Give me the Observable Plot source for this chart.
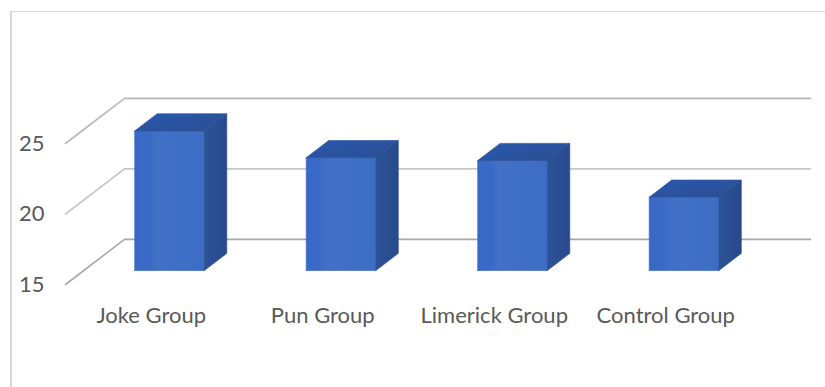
<!DOCTYPE html>
<html>
<head>
<meta charset="utf-8">
<script src="https://cdn.jsdelivr.net/npm/d3@7"></script>
<script src="https://cdn.jsdelivr.net/npm/@observablehq/plot@0.6"></script>
<style>
  html, body { margin: 0; padding: 0; background: #fff; }
  #chart { position: relative; width: 825px; height: 387px; overflow: hidden; }
  #frame { position: absolute; left: 10px; top: 11px; right: 0; bottom: 0;
           border-left: 2px solid #d9d9d9; border-top: 1px solid #d9d9d9; }
  #chart svg { position: absolute; left: 0; top: 0; }
</style>
</head>
<body>
<div id="chart"><div id="frame"></div></div>
<script>
// Mean scores per group
const categories = ["Joke Group", "Pun Group", "Limerick Group", "Control Group"];
const scores = [24.9, 23, 22.8, 20.2];

// Value axis
const gridLevels = [15, 20, 25];
const gridShades = ["#a8a8a8", "#c6c6c6", "#b8b8b8"];
const baseline = 15;

// Oblique projection: moving one unit into the depth shifts a point
// right along the category axis and up along the value axis.
const depthX = 0.344;
const depthY = 3.2;
const barHalfWidth = 0.203;
const barDepthStart = 0.31;
const barDepthEnd = 0.69;
const project = (i, v, d) => ({ x: i + d * depthX, y: v + d * depthY });

// Floor edge and back wall for each grid level
const gridLines = gridLevels.flatMap((level, k) => [
  { ...project(-0.5, level, 0), k },
  { ...project(-0.5, level, 1), k },
  { ...project(3.5, level, 1), k }
]);

// The three visible faces of each column
const face = (name, corners) =>
  corners.map(([i, v, d]) => ({ ...project(i, v, d), name }));

const frontFaces = [], sideFaces = [], topFaces = [];
scores.forEach((score, c) => {
  const l = c - barHalfWidth, r = c + barHalfWidth;
  const a = barDepthStart, b = barDepthEnd;
  frontFaces.push(...face(`front${c}`, [[l, baseline, a], [r, baseline, a], [r, score, a], [l, score, a], [l, baseline, a]]));
  sideFaces.push(...face(`side${c}`, [[r, baseline, a], [r, baseline, b], [r, score, b], [r, score, a], [r, baseline, a]]));
  topFaces.push(...face(`top${c}`, [[l, score, a], [r, score, a], [r, score, b], [l, score, b], [l, score, a]]));
});

// Shared gradients for the column faces
const gradients = () => {
  const svg = d3.create("svg:defs");
  const add = (id, x2, y2, stops) => {
    const g = svg.append("linearGradient").attr("id", id)
      .attr("x1", 0).attr("y1", 0).attr("x2", x2).attr("y2", y2);
    stops.forEach(([o, c]) => g.append("stop").attr("offset", o).attr("stop-color", c));
  };
  add("frontFill", 1, 0, [[0, "#3868c6"], [0.2, "#3b6ac6"], [0.32, "#4170c5"], [0.8, "#3f6ec5"], [1, "#3d6cc4"]]);
  add("sideFill", 1, 0, [[0, "#2c5296"], [1, "#284a8c"]]);
  add("topFill", 1, 1, [[0, "#2b58ae"], [1, "#2a4e90"]]);
  return svg.node();
};

// A hairline stroke in the face's own fill closes the seams between faces
const faceOptions = (fill) => ({ x: "x", y: "y", z: "name", fill, stroke: fill, strokeWidth: 0.7 });

const chart = Plot.plot({
  width: 825,
  height: 387,
  marginLeft: 65,
  marginRight: 74,
  marginTop: 143,
  marginBottom: 103,
  style: { background: "transparent", color: "#595959", fontFamily: "Lato, sans-serif", fontSize: "22px" },
  x: { domain: [-0.5, 3.5] },
  y: { domain: [15, 25] },
  marks: [
    gradients,
    Plot.line(gridLines, { x: "x", y: "y", z: "k", stroke: (d) => gridShades[d.k], strokeWidth: 1.6 }),
    Plot.line(frontFaces, faceOptions("url(#frontFill)")),
    Plot.line(sideFaces, faceOptions("url(#sideFill)")),
    Plot.line(topFaces, faceOptions("url(#topFill)")),
    Plot.axisX({ ticks: [0, 1, 2, 3], tickFormat: (i) => categories[i], tickSize: 0, tickPadding: 23, label: null, fontSize: 22 }),
    Plot.axisY({ ticks: gridLevels, tickSize: 0, tickPadding: 21, label: null, fontSize: 22 })
  ]
});
chart.removeAttribute("font-size");
document.getElementById("chart").appendChild(chart);
</script>
</body>
</html>
